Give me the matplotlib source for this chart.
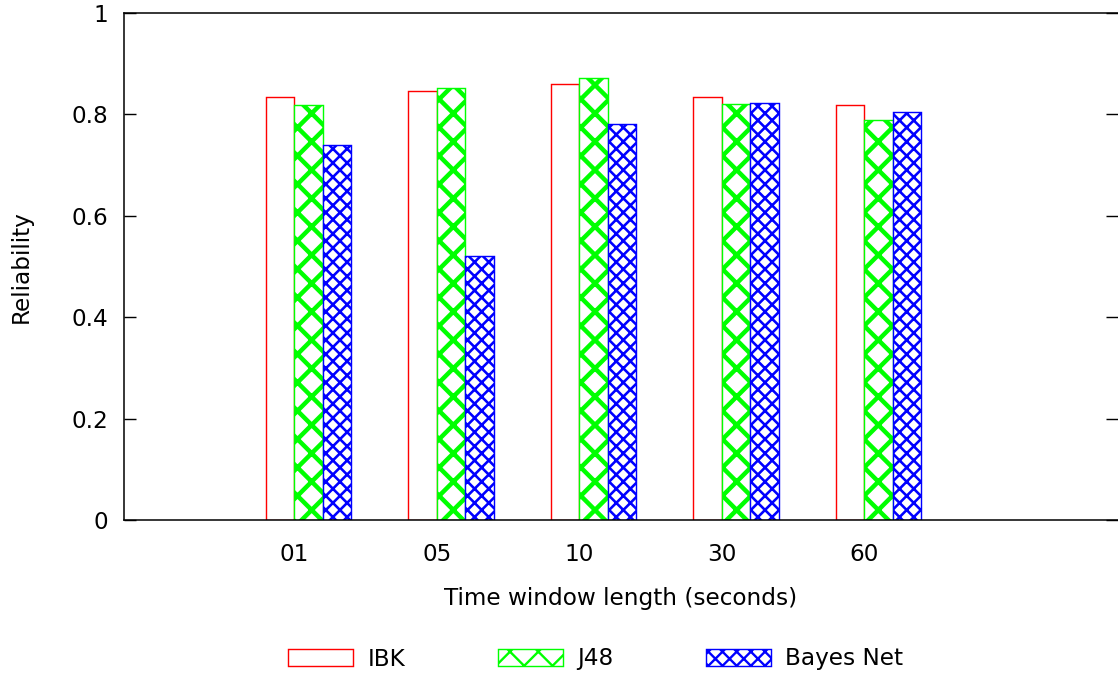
import matplotlib
matplotlib.use("Agg")
import matplotlib.pyplot as plt
import numpy as np
from matplotlib.patches import Patch

categories = ['01', '05', '10', '30', '60']
ibk = [0.834, 0.847, 0.859, 0.834, 0.819]
j48 = [0.818, 0.852, 0.872, 0.821, 0.788]
bayes = [0.739, 0.521, 0.782, 0.823, 0.804]
series_names = ['IBK', 'J48', 'Bayes Net']
yticks = [0, 0.2, 0.4, 0.6, 0.8, 1]
ytick_labels = ['0', '0.2', '0.4', '0.6', '0.8', '1']

DPI = 170
W, H = 1118, 674
plt.rcParams['font.family'] = ['DejaVu Sans']
FS = 9.8

fig = plt.figure(figsize=(W / DPI, H / DPI), dpi=DPI)
ax = fig.add_axes([124 / W, (H - 520) / H, (W - 124) / W, (520 - 13) / H])

x = np.arange(len(categories))
w = 0.2
red, green, blue = '#ff0000', '#00ff00', '#0000ff'

def set_hlw(patches, lw):
    for p in patches:
        if hasattr(p, 'set_hatch_linewidth'):
            p.set_hatch_linewidth(lw)

with plt.rc_context({'hatch.linewidth': 0.5}):
    b1 = ax.bar(x - w, ibk, w, align='edge', facecolor='white', edgecolor=red, linewidth=0.6)
with plt.rc_context({'hatch.linewidth': 1.9}):
    b2 = ax.bar(x, j48, w, align='edge', facecolor='white', edgecolor=green, linewidth=0.6, hatch='xx')
    set_hlw(b2, 1.9)
with plt.rc_context({'hatch.linewidth': 1.1}):
    b3 = ax.bar(x + w, bayes, w, align='edge', facecolor='white', edgecolor=blue, linewidth=0.6, hatch='xxxx')
    set_hlw(b3, 1.1)

ax.set_xlim(-1.197, 5.783)
ax.set_ylim(0, 1)
ax.set_xticks(x)
ax.set_xticklabels(categories, fontsize=FS)
ax.set_yticks(yticks)
ax.set_yticklabels(ytick_labels, fontsize=FS)
ax.tick_params(axis='x', length=0, pad=9.6)
ax.tick_params(axis='y', direction='in', length=4.9, width=0.6, left=True, right=True, pad=6.8)
for s in ['left', 'top', 'bottom']:
    ax.spines[s].set_linewidth(0.65)
ax.spines['right'].set_visible(False)

ax.set_ylabel('Reliability', fontsize=FS)
ax.yaxis.set_label_coords(-0.0915, 0.5)
ax.set_xlabel('Time window length (seconds)', fontsize=FS)
ax.xaxis.set_label_coords(0.5, -0.132)

with plt.rc_context({'hatch.linewidth': 1.5}):
    h1 = Patch(facecolor='white', edgecolor=red, linewidth=0.6)
    h2 = Patch(facecolor='white', edgecolor=green, linewidth=0.6, hatch='xx')
    h3 = Patch(facecolor='white', edgecolor=blue, linewidth=0.6, hatch='xxxx')
set_hlw([h2], 1.5)
set_hlw([h3], 1.0)
leg = fig.legend([h1, h2, h3], series_names, loc='center left', bbox_to_anchor=(288 / W, 1 - 659 / H),
                 ncol=3, frameon=False, fontsize=FS, handlelength=2.83, handleheight=0.7,
                 handletextpad=0.6, columnspacing=4.0, borderpad=0, borderaxespad=0)

fig.savefig('out.png', dpi=DPI)
